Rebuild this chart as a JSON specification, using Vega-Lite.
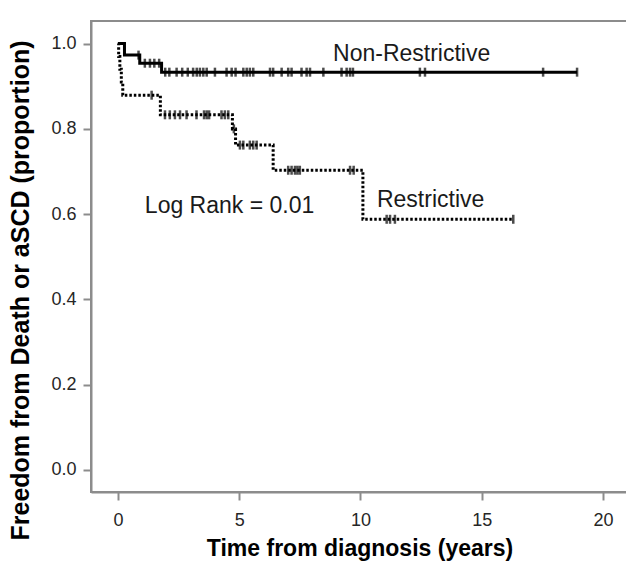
{
  "$schema": "https://vega.github.io/schema/vega-lite/v6.json",
  "autosize": "none",
  "padding": {"left": 91, "top": 21, "right": 0, "bottom": 70},
  "width": 537,
  "height": 471,
  "config": {
    "view": {"stroke": "#8c8c8c", "strokeWidth": 2},
    "font": "Liberation Sans",
    "axis": {"domainColor": "#8c8c8c", "domainWidth": 2, "tickColor": "#8c8c8c", "tickWidth": 2, "tickSize": 8, "grid": false, "labelFont": "Liberation Sans", "labelFontSize": 18, "labelColor": "#262626", "titleFont": "Liberation Sans", "titleFontWeight": "bold", "titleColor": "#000000"}
  },
  "datasets": {
    "curves": [
      {"group": "Non-Restrictive", "t": 0, "s": 1.0},
      {"group": "Non-Restrictive", "t": 0.27, "s": 0.973},
      {"group": "Non-Restrictive", "t": 0.9, "s": 0.954},
      {"group": "Non-Restrictive", "t": 1.8, "s": 0.933},
      {"group": "Non-Restrictive", "t": 18.93, "s": 0.933},
      {"group": "Restrictive", "t": 0, "s": 1.0},
      {"group": "Restrictive", "t": 0.03, "s": 0.97},
      {"group": "Restrictive", "t": 0.08, "s": 0.94},
      {"group": "Restrictive", "t": 0.14, "s": 0.91},
      {"group": "Restrictive", "t": 0.2, "s": 0.879},
      {"group": "Restrictive", "t": 1.75, "s": 0.833},
      {"group": "Restrictive", "t": 4.72, "s": 0.8},
      {"group": "Restrictive", "t": 4.85, "s": 0.762},
      {"group": "Restrictive", "t": 6.4, "s": 0.703},
      {"group": "Restrictive", "t": 10.1, "s": 0.588},
      {"group": "Restrictive", "t": 16.3, "s": 0.588}
    ],
    "censor": [
      {"group": "Non-Restrictive", "t": 0.85, "s": 0.973},
      {"group": "Non-Restrictive", "t": 1.11, "s": 0.954},
      {"group": "Non-Restrictive", "t": 1.32, "s": 0.954},
      {"group": "Non-Restrictive", "t": 1.5, "s": 0.954},
      {"group": "Non-Restrictive", "t": 1.7, "s": 0.954},
      {"group": "Non-Restrictive", "t": 1.95, "s": 0.933},
      {"group": "Non-Restrictive", "t": 2.12, "s": 0.933},
      {"group": "Non-Restrictive", "t": 2.42, "s": 0.933},
      {"group": "Non-Restrictive", "t": 2.65, "s": 0.933},
      {"group": "Non-Restrictive", "t": 2.88, "s": 0.933},
      {"group": "Non-Restrictive", "t": 3.1, "s": 0.933},
      {"group": "Non-Restrictive", "t": 3.25, "s": 0.933},
      {"group": "Non-Restrictive", "t": 3.38, "s": 0.933},
      {"group": "Non-Restrictive", "t": 3.52, "s": 0.933},
      {"group": "Non-Restrictive", "t": 3.66, "s": 0.933},
      {"group": "Non-Restrictive", "t": 4.0, "s": 0.933},
      {"group": "Non-Restrictive", "t": 4.48, "s": 0.933},
      {"group": "Non-Restrictive", "t": 4.69, "s": 0.933},
      {"group": "Non-Restrictive", "t": 4.85, "s": 0.933},
      {"group": "Non-Restrictive", "t": 5.17, "s": 0.933},
      {"group": "Non-Restrictive", "t": 5.31, "s": 0.933},
      {"group": "Non-Restrictive", "t": 5.44, "s": 0.933},
      {"group": "Non-Restrictive", "t": 5.58, "s": 0.933},
      {"group": "Non-Restrictive", "t": 6.27, "s": 0.933},
      {"group": "Non-Restrictive", "t": 6.4, "s": 0.933},
      {"group": "Non-Restrictive", "t": 6.75, "s": 0.933},
      {"group": "Non-Restrictive", "t": 7.02, "s": 0.933},
      {"group": "Non-Restrictive", "t": 7.16, "s": 0.933},
      {"group": "Non-Restrictive", "t": 7.57, "s": 0.933},
      {"group": "Non-Restrictive", "t": 7.78, "s": 0.933},
      {"group": "Non-Restrictive", "t": 7.92, "s": 0.933},
      {"group": "Non-Restrictive", "t": 8.47, "s": 0.933},
      {"group": "Non-Restrictive", "t": 9.22, "s": 0.933},
      {"group": "Non-Restrictive", "t": 9.43, "s": 0.933},
      {"group": "Non-Restrictive", "t": 9.57, "s": 0.933},
      {"group": "Non-Restrictive", "t": 9.69, "s": 0.933},
      {"group": "Non-Restrictive", "t": 12.45, "s": 0.933},
      {"group": "Non-Restrictive", "t": 12.66, "s": 0.933},
      {"group": "Non-Restrictive", "t": 17.53, "s": 0.933},
      {"group": "Non-Restrictive", "t": 18.93, "s": 0.933},
      {"group": "Restrictive", "t": 1.39, "s": 0.879},
      {"group": "Restrictive", "t": 1.94, "s": 0.833},
      {"group": "Restrictive", "t": 2.14, "s": 0.833},
      {"group": "Restrictive", "t": 2.35, "s": 0.833},
      {"group": "Restrictive", "t": 2.56, "s": 0.833},
      {"group": "Restrictive", "t": 2.83, "s": 0.833},
      {"group": "Restrictive", "t": 3.24, "s": 0.833},
      {"group": "Restrictive", "t": 3.55, "s": 0.833},
      {"group": "Restrictive", "t": 3.66, "s": 0.833},
      {"group": "Restrictive", "t": 3.76, "s": 0.833},
      {"group": "Restrictive", "t": 4.27, "s": 0.833},
      {"group": "Restrictive", "t": 4.41, "s": 0.833},
      {"group": "Restrictive", "t": 4.55, "s": 0.833},
      {"group": "Restrictive", "t": 4.78, "s": 0.8},
      {"group": "Restrictive", "t": 5.03, "s": 0.762},
      {"group": "Restrictive", "t": 5.17, "s": 0.762},
      {"group": "Restrictive", "t": 5.44, "s": 0.762},
      {"group": "Restrictive", "t": 5.58, "s": 0.762},
      {"group": "Restrictive", "t": 5.72, "s": 0.762},
      {"group": "Restrictive", "t": 7.02, "s": 0.703},
      {"group": "Restrictive", "t": 7.16, "s": 0.703},
      {"group": "Restrictive", "t": 7.3, "s": 0.703},
      {"group": "Restrictive", "t": 7.4, "s": 0.703},
      {"group": "Restrictive", "t": 7.5, "s": 0.703},
      {"group": "Restrictive", "t": 9.57, "s": 0.703},
      {"group": "Restrictive", "t": 9.72, "s": 0.703},
      {"group": "Restrictive", "t": 11.08, "s": 0.588},
      {"group": "Restrictive", "t": 11.22, "s": 0.588},
      {"group": "Restrictive", "t": 11.42, "s": 0.588},
      {"group": "Restrictive", "t": 16.3, "s": 0.588}
    ],
    "labels": [
      {"t": 8.87, "s": 0.959, "label": "Non-Restrictive"},
      {"t": 1.11, "s": 0.603, "label": "Log Rank = 0.01"},
      {"t": 10.68, "s": 0.617, "label": "Restrictive"}
    ]
  },
  "encoding": {
    "x": {"field": "t", "type": "quantitative", "scale": {"domain": [-1.11, 21.03], "nice": false, "zero": false},
      "axis": {"values": [0, 5, 10, 15, 20], "title": "Time from diagnosis (years)", "titleFontSize": 23, "labelPadding": 11, "titlePadding": 8}},
    "y": {"field": "s", "type": "quantitative", "scale": {"domain": [-0.0516, 1.053], "nice": false, "zero": false},
      "axis": {"values": [0, 0.2, 0.4, 0.6, 0.8, 1.0], "format": ".1f", "title": "Freedom from Death or aSCD (proportion)", "titleFontSize": 25, "labelPadding": 7, "titleX": -71, "titleY": 269, "titleAngle": -90, "titleAlign": "center", "titleBaseline": "middle"}}
  },
  "layer": [
    {
      "data": {"name": "curves"},
      "transform": [{"filter": "datum.group === 'Non-Restrictive'"}],
      "mark": {"type": "line", "interpolate": "step-after", "color": "#000000", "strokeWidth": 3}
    },
    {
      "data": {"name": "curves"},
      "transform": [{"filter": "datum.group === 'Restrictive'"}],
      "mark": {"type": "line", "interpolate": "step-after", "color": "#000000", "strokeWidth": 3, "strokeDash": [2.5, 2]}
    },
    {
      "data": {"name": "censor"},
      "mark": {"type": "tick", "orient": "vertical", "color": "#000000", "size": 9, "thickness": 2.5}
    },
    {
      "data": {"name": "labels"},
      "mark": {"type": "text", "align": "left", "baseline": "alphabetic", "fontSize": 23, "font": "Liberation Sans", "color": "#1a1a1a"},
      "encoding": {"text": {"field": "label", "type": "nominal"}}
    }
  ]
}
